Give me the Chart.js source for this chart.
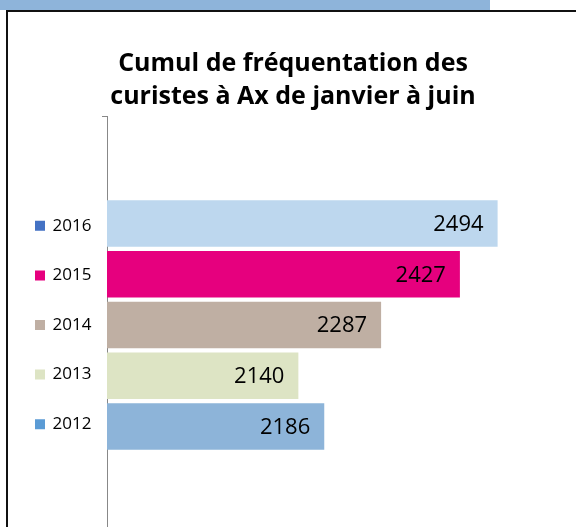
<!DOCTYPE html>
<html lang="fr">
<head>
<meta charset="utf-8">
<title>Cumul de fréquentation des curistes à Ax</title>
<script src="https://cdn.jsdelivr.net/npm/chart.js@4.4.1/dist/chart.umd.min.js"></script>
<style>
    html, body { margin: 0; padding: 0; background: #fff; overflow: hidden; }
    body { width: 576px; height: 527px; position: relative; }
    .top-strip { position: absolute; left: 0; top: 0; width: 490px; height: 10px; background: #8eb4da; }
    .frame { position: absolute; left: 6px; top: 10px; width: 700px; height: 600px;
             border-left: 2px solid #111; border-top: 2px solid #111; }
    .chart-box { position: absolute; left: 0; top: 0; width: 600px; height: 540px; }
</style>
</head>
<body>
<div class="top-strip"></div>
<div class="frame"></div>
<div class="chart-box"><canvas id="frequentation"></canvas></div>
<script>
// Data
const category = ['Janvier - juin'];
const years = ['2016', '2015', '2014', '2013', '2012'];
const visits = [2494, 2427, 2287, 2140, 2186];

// Bar fills, and the (slightly different) swatch colours shown in the legend
const barColors = ['#bdd7ee', '#e6007e', '#bfafa3', '#dde4c4', '#8db4d9'];
const legendColors = ['#4472c4', '#e6007e', '#bfafa3', '#dde4c4', '#5b9bd5'];

const xMin = 1800;
const xMax = 2645;

// Draws each value inside the end of its bar
const valueLabels = {
    id: 'valueLabels',
    afterDatasetsDraw(chart) {
        const ctx = chart.ctx;
        ctx.save();
        ctx.font = '22px "Open Sans"';
        ctx.fillStyle = '#000';
        ctx.textAlign = 'right';
        ctx.textBaseline = 'middle';
        chart.data.datasets.forEach((ds, i) => {
            chart.getDatasetMeta(i).data.forEach((bar, j) => {
                ctx.fillText(ds.data[j], bar.x - 14, bar.y + 1);
            });
        });
        ctx.restore();
    }
};

function initChart() {
    const ctx = document.getElementById('frequentation').getContext('2d');

    const datasets = years.map((year, i) => ({
        label: year,
        data: [visits[i]],
        backgroundColor: barColors[i],
        borderWidth: 0,
        categoryPercentage: 0.607,
        barPercentage: 0.916
    }));

    new Chart(ctx, {
        type: 'bar',
        data: { labels: category, datasets: datasets },
        options: {
            indexAxis: 'y',
            responsive: true,
            maintainAspectRatio: false,
            animation: false,
            layout: { padding: { left: 3.4, right: 17.4, top: 0, bottom: 6 } },
            plugins: {
                title: {
                    display: true,
                    text: ['Cumul de fréquentation des', 'curistes à Ax de janvier à juin'],
                    color: '#000',
                    font: { family: '"Open Sans"', size: 25, weight: 'bold', lineHeight: 1.33 },
                    padding: { top: 47, bottom: 2.5 }
                },
                legend: {
                    position: 'left',
                    fullSize: false,
                    maxWidth: 90,
                    labels: {
                        color: '#404040',
                        font: { family: '"Open Sans"', size: 17 },
                        boxWidth: 8,
                        boxHeight: 8,
                        padding: 32.6,
                        generateLabels: (chart) => chart.data.datasets.map((ds, i) => ({
                            text: ds.label,
                            fillStyle: legendColors[i],
                            strokeStyle: legendColors[i],
                            lineWidth: 2,
                            hidden: false,
                            datasetIndex: i
                        }))
                    }
                },
                tooltip: { enabled: false }
            },
            scales: {
                x: {
                    display: false,
                    min: xMin,
                    max: xMax
                },
                y: {
                    ticks: { display: false },
                    grid: { drawOnChartArea: false, drawTicks: true, tickLength: 5, color: '#888' },
                    border: { display: true, color: '#888', width: 1 },
                    afterFit: (scale) => { scale.width = 13.6; }
                }
            }
        },
        plugins: [valueLabels]
    });
}

window.onload = () => {
    initChart();
};
</script>
</body>
</html>
